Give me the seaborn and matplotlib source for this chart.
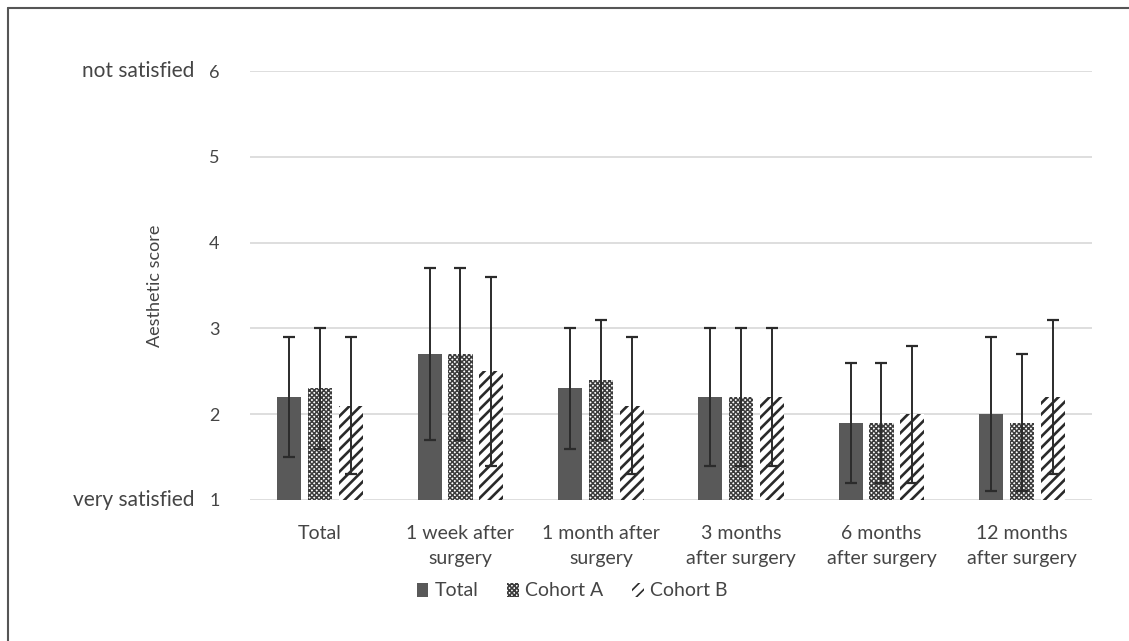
import numpy as np
import pandas as pd
import seaborn as sns
import matplotlib.pyplot as plt
from matplotlib.lines import Line2D
from matplotlib.patches import Patch

# Aesthetic score (mean and standard deviation) per time point and group
timepoints = ["Total", "1 week after\nsurgery", "1 month after\nsurgery",
              "3 months\nafter surgery", "6 months\nafter surgery",
              "12 months\nafter surgery"]
groups = ["Total", "Cohort A", "Cohort B"]

mean_total = [2.2, 2.7, 2.3, 2.2, 1.9, 2.0]
mean_cohort_a = [2.3, 2.7, 2.4, 2.2, 1.9, 1.9]
mean_cohort_b = [2.1, 2.5, 2.1, 2.2, 2.0, 2.2]

sd_total = [0.7, 1.0, 0.7, 0.8, 0.7, 0.9]
sd_cohort_a = [0.7, 1.0, 0.7, 0.8, 0.7, 0.8]
sd_cohort_b = [0.8, 1.1, 0.8, 0.8, 0.8, 0.9]

y_ticks = [1, 2, 3, 4, 5, 6]

means = {"Total": mean_total, "Cohort A": mean_cohort_a, "Cohort B": mean_cohort_b}
sds = {"Total": sd_total, "Cohort A": sd_cohort_a, "Cohort B": sd_cohort_b}

df = pd.DataFrame([
    {"timepoint": t, "group": g, "score": means[g][i], "sd": sds[g][i]}
    for g in groups for i, t in enumerate(timepoints)
])

sns.set_theme(style="white")
plt.rcParams["font.family"] = ["Lato", "DejaVu Sans"]
plt.rcParams["hatch.linewidth"] = 1.2

text_color = "#454545"
fig = plt.figure(figsize=(11.29, 6.41), dpi=100)
ax = fig.add_axes([250 / 1129, 1 - 500 / 641, 842 / 1129, 429 / 641])

sns.barplot(data=df, x="timepoint", y="score", hue="group", order=timepoints,
            hue_order=groups, errorbar=None, width=0.66, gap=0.22,
            palette=["#595959", "#ffffff", "#ffffff"], ax=ax, legend=False,
            zorder=2)

styles = {
    "Total": dict(face="#595959", edge="#595959", hatch=None, hlw=1.0),
    "Cohort A": dict(face="#ffffff", edge="#3c3c3c", hatch="xxxxxxx", hlw=1.1),
    "Cohort B": dict(face="#ffffff", edge="#2a2a2a", hatch="///", hlw=1.9),
}

for g, cont in zip(groups, ax.containers):
    st = styles[g]
    for bar, m, s in zip(cont, means[g], sds[g]):
        bar.set_facecolor(st["face"])
        bar.set_edgecolor(st["edge"])
        bar.set_linewidth(0)
        if st["hatch"]:
            bar.set_hatch(st["hatch"])
            if hasattr(bar, "set_hatch_linewidth"):
                bar.set_hatch_linewidth(st["hlw"])
        cx = bar.get_x() + bar.get_width() / 2
        ax.errorbar(cx, m, yerr=s, fmt="none", ecolor="#2b2b2b",
                    elinewidth=1.4, capsize=4.5, capthick=1.6, zorder=3)

ax.set_ylim(1, 6)
ax.set_xlim(-0.5, len(timepoints) - 0.5)
ax.set_yticks(y_ticks)
ax.set_xticks(range(len(timepoints)), timepoints, linespacing=1.55)
ax.yaxis.grid(True, color="#d4d4d4", linewidth=1.1, zorder=0)
ax.set_axisbelow(True)
for sp in ax.spines.values():
    sp.set_visible(False)
ax.tick_params(axis="both", length=0, colors=text_color)
ax.tick_params(axis="y", pad=22, labelsize=13)
ax.tick_params(axis="x", pad=18, labelsize=14)
ax.set_xlabel("")
ax.set_ylabel("Aesthetic score", fontsize=13, color=text_color, labelpad=33)

# Verbal anchors of the score scale
for yv, label in [(6, "not satisfied"), (1, "very satisfied")]:
    ax.annotate(label, xy=(0, yv), xycoords=("axes fraction", "data"),
                xytext=(-40, 0), textcoords="offset points",
                ha="right", va="center", fontsize=15, color=text_color)

handles = []
for g in groups:
    st = styles[g]
    h = Patch(facecolor=st["face"], edgecolor=st["edge"], hatch=st["hatch"], linewidth=0)
    handles.append(h)
leg = fig.legend(handles, groups, loc="center", bbox_to_anchor=(572 / 1129, 1 - 591 / 641),
                 ncol=3, frameon=False, fontsize=14, handlelength=0.6, handleheight=0.7,
                 handletextpad=0.3, columnspacing=1.5, labelcolor=text_color)

# Frame lines along the left and top edges of the figure
fig.add_artist(Line2D([8 / 1129, 8 / 1129], [0, 1 - 8 / 641], color="#555555",
                      linewidth=1.5, transform=fig.transFigure))
fig.add_artist(Line2D([8 / 1129, 1], [1 - 8 / 641, 1 - 8 / 641], color="#555555",
                      linewidth=1.5, transform=fig.transFigure))

fig.savefig("out.png", dpi=100)
